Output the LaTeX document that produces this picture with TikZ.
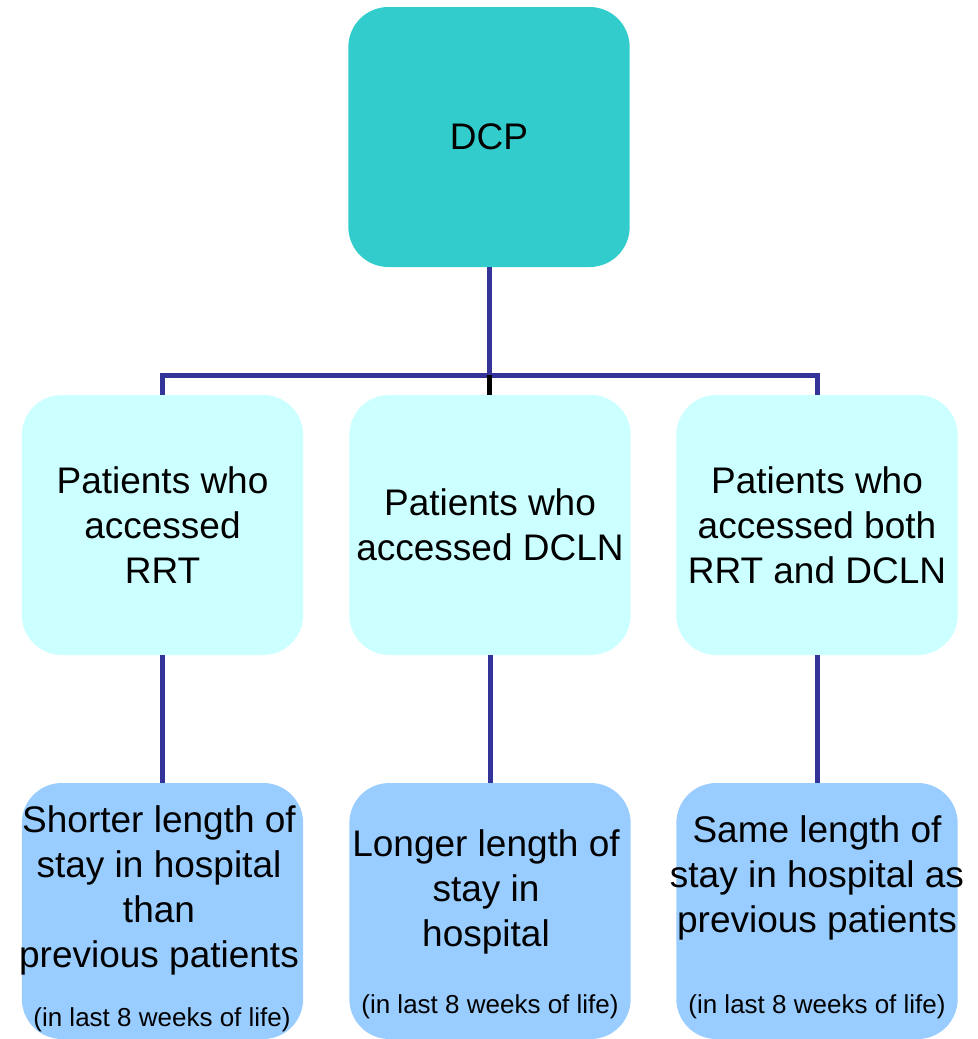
\documentclass[tikz,border=0pt]{standalone}
\usepackage{fontspec}
\setmainfont{Liberation Sans}
\definecolor{dcpfill}{HTML}{33CCCC}
\definecolor{midfill}{HTML}{CCFFFF}
\definecolor{botfill}{HTML}{99CCFF}
\definecolor{linecol}{HTML}{333399}
\begin{document}
\begin{tikzpicture}[x=0.75pt,y=-0.75pt,
  box/.style={rounded corners=30pt, draw=none, inner sep=0pt, minimum width=211pt, align=center,
    font=\fontsize{27.75}{33.75}\selectfont},
  topbox/.style={box, fill=dcpfill, minimum height=195pt},
  midbox/.style={box, fill=midfill, minimum height=195pt},
  botbox/.style={box, fill=botfill, minimum height=192pt},
  maintext/.style={align=center, inner sep=0pt, font=\fontsize{27.75}{33.75}\selectfont},
  smalltext/.style={inner sep=0pt, anchor=base, font=\fontsize{19.5}{23}\selectfont},
  conn/.style={draw=linecol, line width=3.75pt},
  blackconn/.style={draw=black, line width=3.75pt}]
\useasboundingbox (0,0) rectangle (978,1039);
\coordinate (jc) at (489,375);
% boxes
\node[topbox] (dcp) at (489,137) {DCP};
\node[midbox] (n1) at (162.5,525) {Patients who\\accessed\\RRT};
\node[midbox] (n2) at (490,525) {Patients who\\accessed DCLN};
\node[midbox] (n3) at (817,525) {Patients who\\accessed both\\RRT and DCLN};
\node[botbox] (b1) at (162.5,911) {};
\node[botbox] (b2) at (490,911) {};
\node[botbox] (b3) at (817,911) {};
% connectors
\draw[conn] (dcp.south) -- (jc);
\draw[conn] (jc) -| (n1.north);
\draw[conn] (jc) -| (n3.north);
\draw[blackconn] (jc) -- (jc |- n2.north);
\draw[conn] (n1.south) -- (b1.north);
\draw[conn] (n2.south) -- (b2.north);
\draw[conn] (n3.south) -- (b3.north);
% texts in bottom boxes
\node[maintext] (b1t) at (159,890) {Shorter length of\\stay in hospital\\than\\previous patients};
\node[smalltext] (b1s) at (162,1026) {(in last 8 weeks of life)};
\node[maintext] (b2t) at (486,892) {Longer length of\\stay in\\hospital};
\node[smalltext] (b2s) at (490,1013) {(in last 8 weeks of life)};
\node[maintext] (b3t) at (817,878) {Same length of\\stay in hospital as\\previous patients};
\node[smalltext] (b3s) at (817,1013) {(in last 8 weeks of life)};
\end{tikzpicture}
\end{document}
